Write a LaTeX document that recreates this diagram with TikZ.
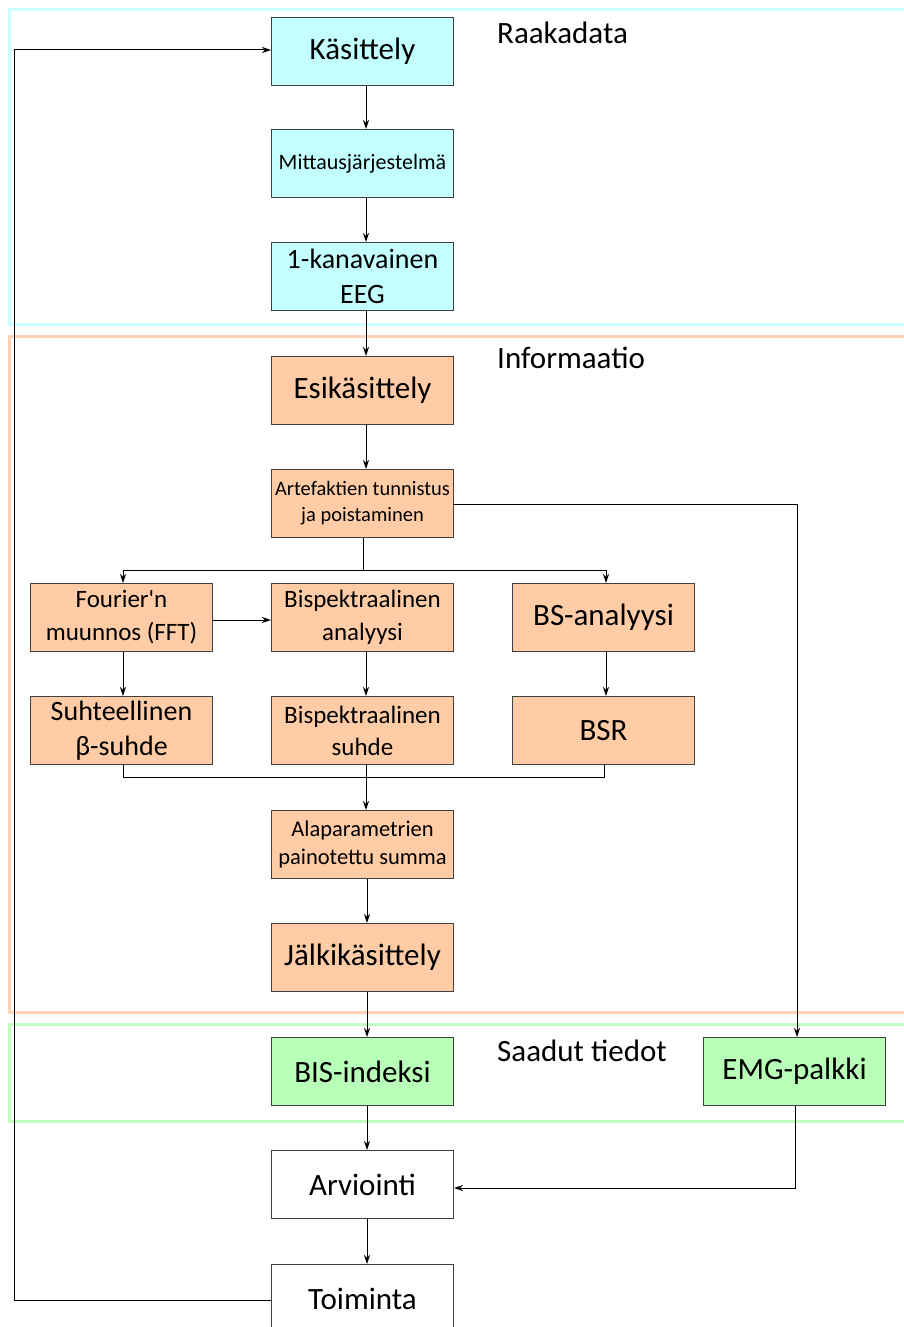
\documentclass[tikz,border=0pt]{standalone}
\usepackage{fontspec}
\setmainfont{Carlito}[Ligatures=TeXOff]
\usetikzlibrary{arrows.meta}
\definecolor{cyanfill}{HTML}{C4FFFF}
\definecolor{peachfill}{HTML}{FFCCA6}
\definecolor{greenfill}{HTML}{B8FFB8}
\definecolor{cyanreg}{HTML}{CCFFFF}
\definecolor{peachreg}{HTML}{FFD2B4}
\definecolor{greenreg}{HTML}{C0FFC0}
\definecolor{boxline}{HTML}{404040}
\tikzset{
  blk/.style={draw=boxline, line width=1pt, minimum width=182pt, minimum height=68pt, inner sep=0pt, align=center, anchor=north west, font=\fontsize{31}{37}\selectfont},
  cy/.style={blk, fill=cyanfill},
  pe/.style={blk, fill=peachfill},
  gr/.style={blk, fill=greenfill},
  wh/.style={blk, fill=white},
  region/.style={line width=3pt},
  lbl/.style={anchor=west, inner sep=0pt, font=\fontsize{31}{37}\selectfont},
  conn/.style={draw=black, line width=1pt},
  arr/.style={conn, -{Stealth[length=9pt,width=6pt]}},
}
\begin{document}
\begin{tikzpicture}[x=1pt,y=-1pt]
\useasboundingbox (0,0) rectangle (903,1327);
% regions
\draw[region, draw=cyanreg] (910,9.5) -- (9.5,9.5) -- (9.5,324) -- (910,324);
\draw[region, draw=peachreg] (910,336) -- (9.5,336) -- (9.5,1012) -- (910,1012);
\draw[region, draw=greenreg] (910,1024) -- (9.5,1024) -- (9.5,1121) -- (910,1121);
\node[lbl] (raaka) at (497,33) {Raakadata};
\node[lbl] (info) at (497,358) {Informaatio};
\node[lbl] (saadut) at (497,1051) {Saadut tiedot};
% boxes
\node[cy] (kas) at (271,17) {Käsittely};
\node[cy, font=\fontsize{22}{27}\selectfont] (mit) at (271,129) {\raisebox{-2pt}{Mittausjärjestelmä}};
\node[cy, font=\fontsize{28}{35}\selectfont] (eeg) at (271,242) {1-kanavainen\\EEG};
\node[pe] (esi) at (271,356) {Esikäsittely};
\node[pe, font=\fontsize{20.5}{26}\selectfont] (art) at (271,469) {\raisebox{-2pt}{Artefaktien tunnistus}\\\raisebox{-2pt}{ja poistaminen}};
\node[pe, font=\fontsize{25}{33}\selectfont] (fft) at (30,583) {Fourier'n\\muunnos (FFT)};
\node[pe, font=\fontsize{25}{33}\selectfont] (bsa) at (271,583) {Bispektraalinen\\analyysi};
\node[pe] (bsan) at (512,583) {BS-analyysi};
\node[pe, font=\fontsize{28}{35}\selectfont] (suh) at (30,696) {Suhteellinen\\β-suhde};
\node[pe, font=\fontsize{25}{32}\selectfont] (bss) at (271,696) {Bispektraalinen\\suhde};
\node[pe] (bsr) at (512,696) {BSR};
\node[pe, font=\fontsize{22.5}{28}\selectfont] (ala) at (271,810) {Alaparametrien\\painotettu summa};
\node[pe] (jal) at (271,923) {Jälkikäsittely};
\node[gr] (bis) at (271,1037) {BIS-indeksi};
\node[gr] (emg) at (703,1037) {EMG-palkki};
\node[wh] (arv) at (271,1150) {Arviointi};
\node[wh] (toi) at (271,1264) {Toiminta};
% connectors
\draw[arr] (kas.south -| 366,0) -- (mit.north -| 366,0);
\draw[arr] (mit.south -| 366,0) -- (eeg.north -| 366,0);
\draw[arr] (eeg.south -| 366,0) -- (esi.north -| 366,0);
\draw[arr] (esi.south -| 366,0) -- (art.north -| 366,0);
\coordinate (split) at (363,570);
\draw[conn] (art.south -| split) -- (split);
\draw[arr] (split) -- (123,570) -- (fft.north -| 123,0);
\draw[arr] (split) -- (606,570) -- (bsan.north -| 606,0);
\coordinate (emgin) at (797,504);
\draw[arr] (art.east |- emgin) -- (emgin) -- (emg.north -| emgin);
\draw[arr] (fft.east |- 0,620) -- (bsa.west |- 0,620);
\draw[arr] (fft.south -| 123,0) -- (suh.north -| 123,0);
\draw[arr] (bsa.south -| 366,0) -- (bss.north -| 366,0);
\draw[arr] (bsan.south -| 606,0) -- (bsr.north -| 606,0);
\draw[conn] (suh.south -| 123,0) -- (123,777) -- (604,777) -- (bsr.south -| 604,0);
\draw[arr] (bss.south -| 366,0) -- (ala.north -| 366,0);
\draw[arr] (ala.south -| 367,0) -- (jal.north -| 367,0);
\draw[arr] (jal.south -| 367,0) -- (bis.north -| 367,0);
\draw[arr] (bis.south -| 367,0) -- (arv.north -| 367,0);
\draw[arr] (arv.south -| 367,0) -- (toi.north -| 367,0);
\coordinate (emgout) at (795,1188);
\draw[arr] (emg.south -| emgout) -- (emgout) -- (arv.east |- emgout);
\coordinate (fbl) at (14,1300);
\coordinate (fbt) at (14,50);
\draw[arr] (toi.west |- fbl) -- (fbl) -- (fbt) -- (kas.west |- fbt);
\end{tikzpicture}
\end{document}
